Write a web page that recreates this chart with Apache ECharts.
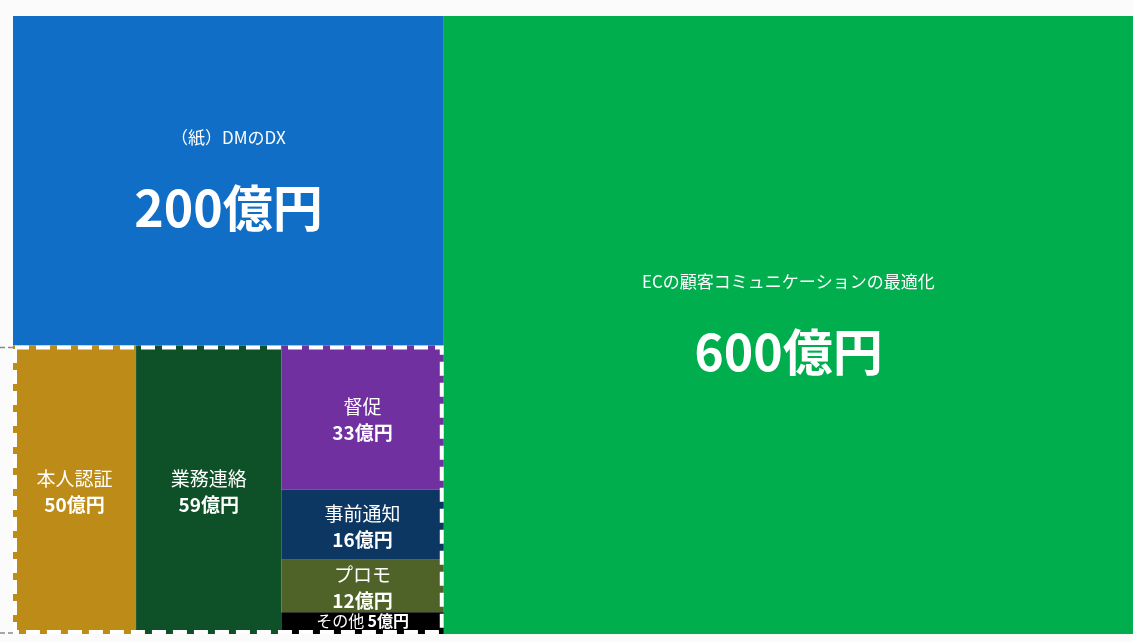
<!DOCTYPE html>
<html>
<head>
<meta charset="utf-8">
<script src="https://cdn.jsdelivr.net/npm/echarts@6/dist/echarts.min.js"></script>
<style>
  html, body { margin: 0; padding: 0; background: #fbfbfb; }
  #chart { width: 1133px; height: 642px; }
</style>
</head>
<body>
<div id="chart"></div>
<script>
// 市場規模（単位：億円）
const mainNames = ['（紙）DMのDX', 'ECの顧客コミュニケーションの最適化'];
const mainValues = [200, 600];
const sideNames = ['本人認証', '業務連絡'];
const sideValues = [50, 59];
const stackNames = ['督促', '事前通知', 'プロモ', 'その他'];
const stackValues = [33, 16, 12, 5];
const unit = '億円';

const mainColors = ['#106EC6', '#00AE4E'];
const sideColors = ['#BD8B17', '#0E5027'];
const stackColors = ['#7030A0', '#0B3762', '#4F6228', '#000000'];

const FONT = '"Noto Sans CJK JP", "Noto Sans", sans-serif';
const sum = a => a.reduce((s, v) => s + v, 0);

// Slice-and-dice layout in the unit square, proportional to the values
const groupTotal = sum(sideValues) + sum(stackValues);
const total = sum(mainValues) + groupTotal;
const leftW = (mainValues[0] + groupTotal) / total;
const dmH = mainValues[0] / (mainValues[0] + groupTotal);

const cells = [];
cells.push({ x0: 0, y0: 0, x1: leftW, y1: dmH, name: mainNames[0], value: mainValues[0], color: mainColors[0], big: true });
cells.push({ x0: leftW, y0: 0, x1: 1, y1: 1, name: mainNames[1], value: mainValues[1], color: mainColors[1], big: true });
let cx = 0;
sideValues.forEach((v, i) => {
  const w = v / groupTotal * leftW;
  cells.push({ x0: cx, y0: dmH, x1: cx + w, y1: 1, name: sideNames[i], value: v, color: sideColors[i] });
  cx += w;
});
const stackTotal = sum(stackValues);
let cy = dmH;
stackValues.forEach((v, i) => {
  const h = v / stackTotal * (1 - dmH);
  cells.push({ x0: cx, y0: cy, x1: leftW, y1: cy + h, name: stackNames[i], value: v, color: stackColors[i] });
  cy += h;
});
// dashed frame around the smaller use cases
cells.push({ x0: 0, y0: dmH, x1: leftW, y1: 1, outline: true });

function renderItem(params, api) {
  const c = cells[params.dataIndex];
  const p0 = api.coord([c.x0, c.y0]);
  const p1 = api.coord([c.x1, c.y1]);
  const x = Math.min(p0[0], p1[0]);
  const y = Math.min(p0[1], p1[1]);
  const w = Math.abs(p1[0] - p0[0]);
  const h = Math.abs(p1[1] - p0[1]);
  if (c.outline) {
    const dash = { stroke: '#8a8a8a', lineWidth: 1.5, lineDash: [5, 3] };
    return {
      type: 'group',
      children: [
        { type: 'line', shape: { x1: 0, y1: y + 2, x2: x, y2: y + 2 }, style: dash },
        { type: 'line', shape: { x1: 0, y1: y + h - 1, x2: x, y2: y + h - 1 }, style: dash },
        {
          type: 'rect',
          shape: { x: x + 2, y: y + 2, width: w - 4, height: h - 4 },
          style: { fill: null, stroke: '#ffffff', lineWidth: 4, lineDash: [14, 7] }
        }
      ]
    };
  }
  const mx = x + w / 2;
  const my = y + h / 2;
  const children = [{ type: 'rect', shape: { x, y, width: w, height: h }, style: { fill: c.color } }];
  const label = (text, ty, size, weight) => ({
    type: 'text',
    style: {
      text, x: mx, y: ty, align: 'center', verticalAlign: 'middle',
      fill: '#ffffff', fontFamily: FONT, fontSize: size, fontWeight: weight
    }
  });
  if (c.big) {
    children.push(label(c.name, my - 43, 17, 'normal'));
    children.push(label(c.value + unit, my + 27, 50, 'bold'));
  } else if (h >= 50) {
    children.push(label(c.name, my - 11, 19, 'normal'));
    children.push(label(c.value + unit, my + 15, 19, 'bold'));
  } else {
    // too short for two lines: name and value side by side
    children.push({
      type: 'text',
      style: {
        text: '{n|' + c.name + '} {v|' + c.value + unit + '}',
        x: mx, y: my - 2, align: 'center', verticalAlign: 'middle', fill: '#ffffff',
        rich: {
          n: { fontFamily: FONT, fontSize: 16, fill: '#ffffff' },
          v: { fontFamily: FONT, fontSize: 16, fontWeight: 'bold', fill: '#ffffff' }
        }
      }
    });
  }
  return { type: 'group', children };
}

const chart = echarts.init(document.getElementById('chart'), null, { renderer: 'canvas' });
chart.setOption({
  backgroundColor: '#fbfbfb',
  animation: false,
  grid: { left: 13, top: 16, right: 0, bottom: 8 },
  xAxis: { type: 'value', min: 0, max: 1, show: false },
  yAxis: { type: 'value', min: 0, max: 1, inverse: true, show: false },
  series: [{
    type: 'custom',
    coordinateSystem: 'cartesian2d',
    clip: false,
    renderItem,
    encode: { x: [0, 2], y: [1, 3] },
    data: cells.map(c => [c.x0, c.y0, c.x1, c.y1])
  }]
});
</script>
</body>
</html>
